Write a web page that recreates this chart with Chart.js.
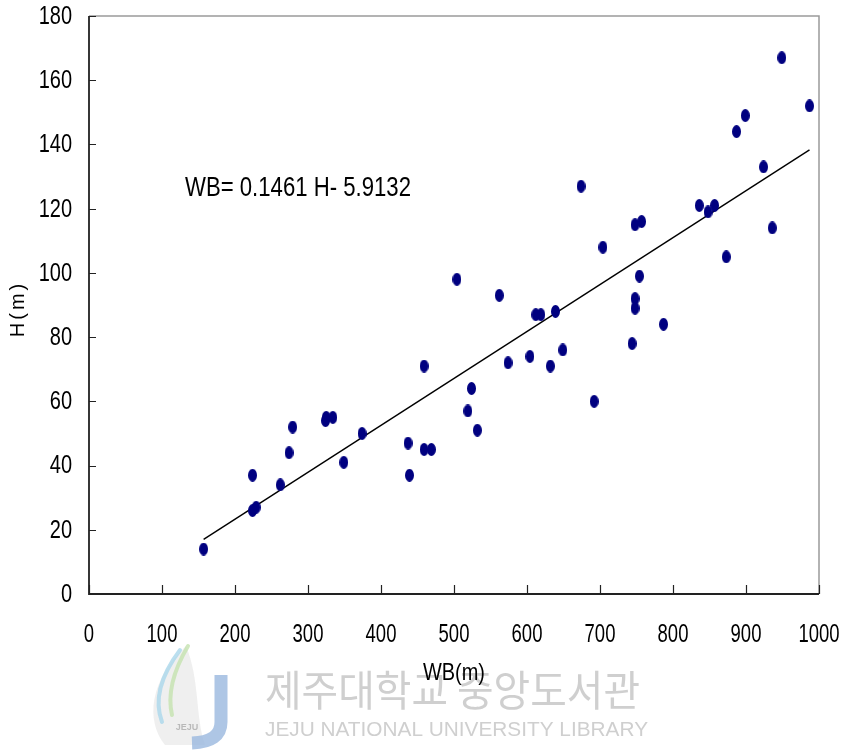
<!DOCTYPE html>
<html><head><meta charset="utf-8">
<script src="https://cdn.jsdelivr.net/npm/chart.js@4"></script>
<style>html,body{margin:0;padding:0;background:#fff}#wrap{width:845px;height:750px}</style>
</head><body><div id="wrap"><canvas id="c" width="845" height="750"></canvas></div>
<script>
const wbValues = [157,224,224,229,262,274,279,325,324,334,349,374,437,439,459,469,459,504,519,524,532,562,574,604,612,619,632,639,649,674,692,704,744,748,748,748,754,757,787,836,848,857,873,887,899,924,936,949,987];
const hValues  = [14,37,26,27,34,44,52,55,54,55,41,50,47,37,45,45,71,98,57,64,51,93,72,74,87,87,71,88,76,127,60,108,78,115,92,89,99,116,84,121,119,121,105,144,149,133,114,167,152];
const fitWB = [157,987];
const fitH = [17.0,138.3];
const xTicks = [0,100,200,300,400,500,600,700,800,900,1000];
const yTicks = [0,20,40,60,80,100,120,140,160,180];
const equationText = 'WB= 0.1461 H- 5.9132';
const xTitle = 'WB(m)';
const yTitle = 'H(m)';
const wmKo = '제주대학교 중앙도서관';
const wmEn = 'JEJU NATIONAL UNIVERSITY LIBRARY';
const wmLogo = 'JEJU';

const FONT = "'Liberation Sans',Arial,sans-serif";

// ellipse marker
const mk = document.createElement('canvas');
mk.width = 9; mk.height = 13;
{ const g = mk.getContext('2d'); g.fillStyle = '#000080'; g.beginPath(); g.ellipse(4.5,6.5,4.5,6.5,0,0,Math.PI*2); g.fill(); }

const pts = wbValues.map((x,i)=>({x:x,y:hValues[i]}));
const fit = fitWB.map((x,i)=>({x:x,y:fitH[i]}));

function txt(ctx, s, x, y, size, sx, align){
  ctx.save();
  ctx.font = size + 'px ' + FONT;
  ctx.textBaseline = 'middle';
  ctx.textAlign = align;
  ctx.translate(x, y); ctx.scale(sx, 1);
  ctx.fillText(s, 0, 0);
  ctx.restore();
}
function txtW(ctx, s, x, y, size, width, align, font){
  ctx.save();
  ctx.font = size + 'px ' + (font || FONT);
  const w = ctx.measureText(s).width;
  ctx.textBaseline = 'middle';
  ctx.textAlign = align;
  ctx.translate(x, y); ctx.scale(width / w, 1);
  ctx.fillText(s, 0, 0);
  ctx.restore();
}

const watermark = {
  id:'watermark',
  beforeDraw(chart){
    const ctx = chart.ctx;
    ctx.save();
    // faint leaf background
    ctx.fillStyle = 'rgba(235,235,235,0.8)';
    ctx.beginPath();
    ctx.moveTo(186,646);
    ctx.bezierCurveTo(150,680,145,720,165,745);
    ctx.lineTo(205,745);
    ctx.bezierCurveTo(195,715,200,680,186,646);
    ctx.fill();
    // swooshes
    ctx.lineCap = 'round';
    ctx.strokeStyle = 'rgba(170,215,235,0.8)'; ctx.lineWidth = 4;
    ctx.beginPath(); ctx.moveTo(180,650); ctx.quadraticCurveTo(150,690,162,722); ctx.stroke();
    ctx.strokeStyle = 'rgba(200,228,180,0.85)'; ctx.lineWidth = 4;
    ctx.beginPath(); ctx.moveTo(188,646); ctx.quadraticCurveTo(165,685,172,715); ctx.stroke();
    // J band
    ctx.strokeStyle = 'rgba(160,188,225,0.85)'; ctx.lineWidth = 13; ctx.lineCap = 'butt';
    ctx.beginPath(); ctx.moveTo(221,675); ctx.lineTo(221,722); ctx.quadraticCurveTo(221,742,192,743); ctx.stroke();
    // small text
    ctx.fillStyle = 'rgba(150,150,150,0.6)';
    ctx.font = 'bold 9px ' + FONT; ctx.textAlign = 'center'; ctx.textBaseline = 'middle';
    ctx.fillText(wmLogo, 187, 728);
    // texts
    ctx.fillStyle = 'rgba(160,160,160,0.5)';
    txtW(ctx, wmKo, 265, 690, 42, 375, 'left', "'Noto Sans CJK KR'");
    txtW(ctx, wmEn, 265, 730, 20, 383, 'left');
    ctx.restore();
  }
};

const deco = {
  id:'deco',
  afterDraw(chart){
    const {ctx, chartArea:a, scales:{x,y}} = chart;
    ctx.save();
    ctx.strokeStyle = '#9a9a9a'; ctx.lineWidth = 1.5;
    ctx.beginPath(); ctx.moveTo(a.left, a.top); ctx.lineTo(a.right, a.top); ctx.lineTo(a.right, a.bottom); ctx.stroke();
    ctx.strokeStyle = '#222'; ctx.lineWidth = 1.8;
    ctx.beginPath(); ctx.moveTo(a.left, a.top); ctx.lineTo(a.left, a.bottom); ctx.lineTo(a.right, a.bottom); ctx.stroke();
    ctx.lineWidth = 1.2;
    ctx.beginPath();
    yTicks.forEach(v=>{ const py = Math.round(y.getPixelForValue(v))+0.5; ctx.moveTo(a.left, py); ctx.lineTo(a.left+7, py); });
    xTicks.forEach(v=>{ const px = Math.round(x.getPixelForValue(v))+0.5; ctx.moveTo(px, a.bottom); ctx.lineTo(px, a.bottom-9); });
    ctx.stroke();
    ctx.fillStyle = '#000';
    yTicks.forEach(v=>{ txt(ctx, String(v), a.left-17, y.getPixelForValue(v)+1, 25, 0.8, 'right'); });
    xTicks.forEach(v=>{ txt(ctx, String(v), x.getPixelForValue(v), 635, 25, 0.74, 'center'); });
    txtW(ctx, equationText, 185, 188, 28, 226, 'left');
    txtW(ctx, xTitle, 454, 673, 24, 62, 'center');
    ctx.save(); ctx.translate(18, 310); ctx.rotate(-Math.PI/2);
    ctx.font = '20px ' + FONT; ctx.letterSpacing = '3px';
    ctx.textAlign = 'center'; ctx.textBaseline = 'middle';
    ctx.fillText(yTitle, 1, 0);
    ctx.restore();
    ctx.restore();
  }
};

new Chart(document.getElementById('c'), {
  type:'scatter',
  data:{datasets:[
    {type:'line', data:fit, borderColor:'#000', borderWidth:1.4, pointRadius:0, fill:false, showLine:true, order:1},
    {data:pts, pointStyle:mk, pointRadius:6, backgroundColor:'#000080', borderColor:'#000080', order:0}
  ]},
  options:{
    responsive:false, animation:false, devicePixelRatio:1,
    layout:{padding:{left:0, top:16, right:26, bottom:0}},
    plugins:{legend:{display:false}, tooltip:{enabled:false}},
    scales:{
      x:{type:'linear', min:0, max:1000,
        afterBuildTicks(s){ s.ticks = xTicks.map(v=>({value:v})); },
        afterFit(s){ s.height = 156; s.paddingLeft = 0; s.paddingRight = 0; },
        grid:{display:false, drawTicks:false}, border:{display:false},
        ticks:{display:false}},
      y:{type:'linear', min:0, max:180,
        afterBuildTicks(s){ s.ticks = yTicks.map(v=>({value:v})); },
        afterFit(s){ s.width = 89; s.paddingTop = 0; s.paddingBottom = 0; },
        grid:{display:false, drawTicks:false}, border:{display:false},
        ticks:{display:false}}
    }
  },
  plugins:[watermark, deco]
});
</script></body></html>
